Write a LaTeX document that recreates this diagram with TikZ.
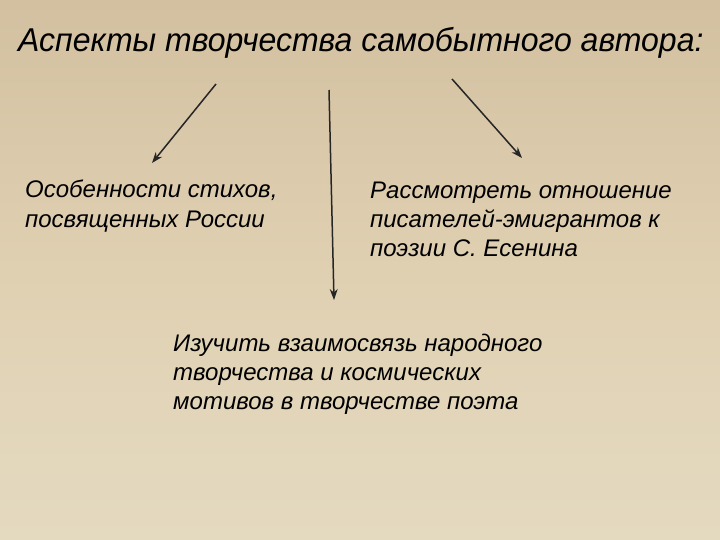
\documentclass[tikz,border=0pt]{standalone}
\usepackage{fontspec}
\setmainfont{Liberation Sans}
\usetikzlibrary{arrows.meta}
\definecolor{parchtop}{RGB}{210,192,160}
\definecolor{parchmid}{RGB}{224,208,178}
\definecolor{parchbot}{RGB}{228,218,192}
\tikzset{
  lbl/.style={anchor=base west, inner sep=0pt, align=left, font=\fontsize{24}{29}\selectfont\itshape, text=black},
  ttl/.style={anchor=base west, inner sep=0pt, font=\fontsize{33}{38}\selectfont\itshape, text=black, xscale=0.97},
  arr/.style={-{Stealth[length=11pt,width=8pt]}, line width=1.5pt, draw=black!85, fill=black!85}
}
\begin{document}
\begin{tikzpicture}[x=1pt,y=-1pt]
\useasboundingbox (0,0) rectangle (720,540);
\shade[top color=parchtop, bottom color=parchmid] (0,0) rectangle (720,270);
\shade[top color=parchmid, bottom color=parchbot] (0,270) rectangle (720,540);
\node[ttl] (title) at (18,52) {Аспекты творчества самобытного автора:};
\node[lbl] (left) at (25,227) {Особенности стихов,\\посвященных России};
\node[lbl] (right) at (370,256) {Рассмотреть отношение\\писателей-эмигрантов к\\поэзии С. Есенина};
\node[lbl] (bottom) at (173,409) {Изучить взаимосвязь народного\\творчества и космических\\мотивов в творчестве поэта};
\coordinate (ls) at (216,84);
\coordinate (le) at (152,163);
\coordinate (ms) at (329,90);
\coordinate (me) at (334,300);
\coordinate (rs) at (452,79);
\coordinate (re) at (522,158);
\draw[arr] (ls) -- (le);
\draw[arr] (ms) -- (me);
\draw[arr] (rs) -- (re);
\end{tikzpicture}
\end{document}
